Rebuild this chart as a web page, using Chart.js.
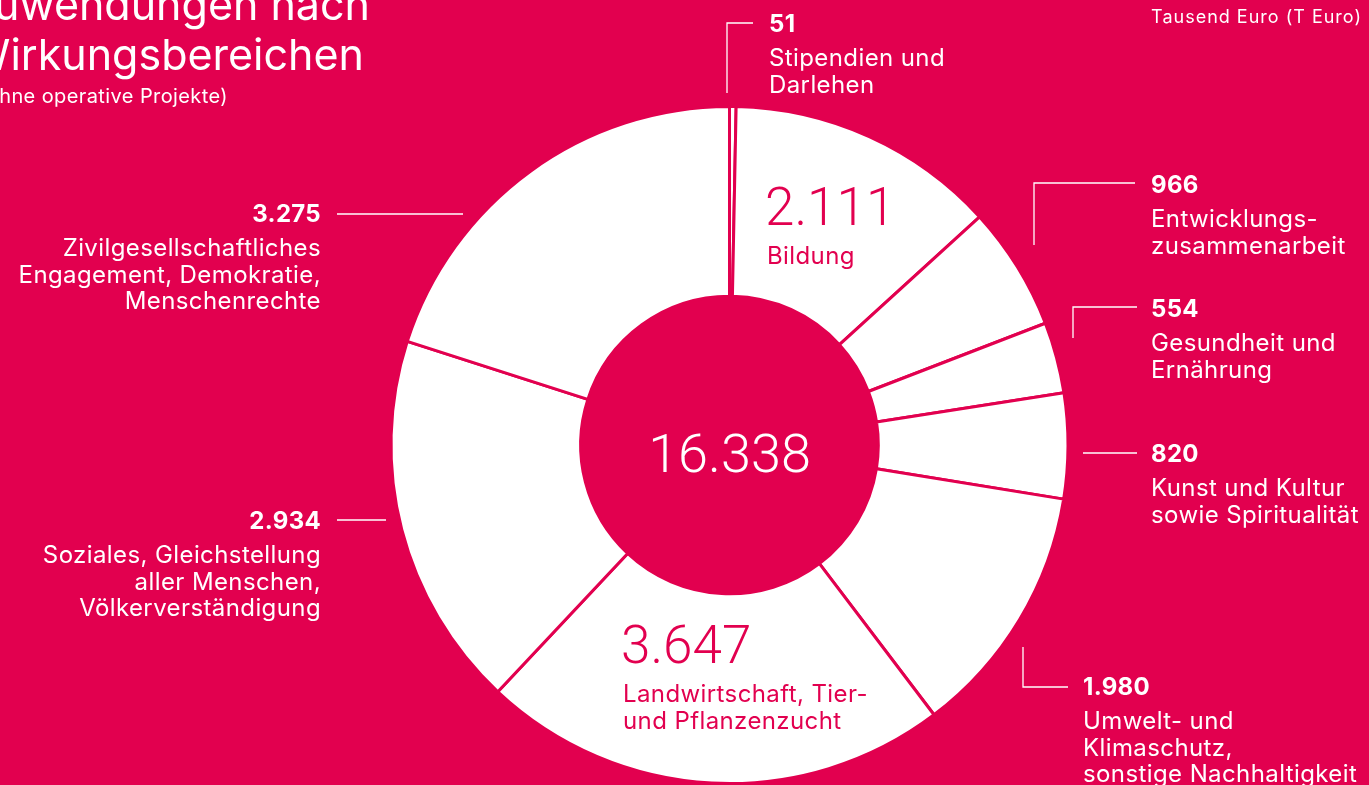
<!DOCTYPE html>
<html>
<head>
<meta charset="utf-8">
<script src="https://cdn.jsdelivr.net/npm/chart.js@4"></script>
<style>
  html, body { margin: 0; padding: 0; background: #E2004F; overflow: hidden; }
  #wrap { position: relative; width: 1369px; height: 785px; }
</style>
</head>
<body>
<div id="wrap"><canvas id="donut" width="1369" height="785"></canvas></div>
<script>
// ! data, clockwise from 12 o'clock
const categories = ['Stipendien und Darlehen', 'Bildung', 'Entwicklungszusammenarbeit', 'Gesundheit und Ernährung',
  'Kunst und Kultur sowie Spiritualität', 'Umwelt- und Klimaschutz, sonstige Nachhaltigkeit',
  'Landwirtschaft, Tier- und Pflanzenzucht', 'Soziales, Gleichstellung aller Menschen, Völkerverständigung',
  'Zivilgesellschaftliches Engagement, Demokratie, Menschenrechte'];
const values = [51, 2111, 966, 554, 820, 1980, 3647, 2934, 3275];
const labelLines = [
  ['Stipendien und', 'Darlehen'],
  ['Bildung'],
  ['Entwicklungs-', 'zusammenarbeit'],
  ['Gesundheit und', 'Ernährung'],
  ['Kunst und Kultur', 'sowie Spiritualität'],
  ['Umwelt- und', 'Klimaschutz,', 'sonstige Nachhaltigkeit'],
  ['Landwirtschaft, Tier-', 'und Pflanzenzucht'],
  ['Soziales, Gleichstellung', 'aller Menschen,', 'Völkerverständigung'],
  ['Zivilgesellschaftliches', 'Engagement, Demokratie,', 'Menschenrechte']
];
const titleLines = ['Zuwendungen nach', 'Wirkungsbereichen'];
const subtitle = '(ohne operative Projekte)';
const unitText = 'Tausend Euro (T Euro)';

const RED = '#E2004F';
const FONT = 'Inter, "Noto Sans", sans-serif';
const NUMFONT = 'Roboto, Inter, sans-serif';

// label placement (layout only): anchor x, baseline of value, alignment, inside slice or not, leader polyline
const labelPlace = [
  {x: 769, y: 32, align: 'left', inside: false, leader: [[753, 23], [727, 23], [727, 93]]},
  {x: 767, y: 225, align: 'left', inside: true},
  {x: 1151, y: 193, align: 'left', inside: false, leader: [[1135, 183], [1034, 183], [1034, 245]]},
  {x: 1151, y: 317, align: 'left', inside: false, leader: [[1137, 307], [1073, 307], [1073, 338]]},
  {x: 1151, y: 462, align: 'left', inside: false, leader: [[1137, 453], [1083, 453]]},
  {x: 1083, y: 695, align: 'left', inside: false, leader: [[1023, 647], [1023, 687], [1068, 687]]},
  {x: 623, y: 663, align: 'left', inside: true},
  {x: 321, y: 529, align: 'right', inside: false, leader: [[337, 520], [386, 520]]},
  {x: 321, y: 222, align: 'right', inside: false, leader: [[337, 214], [463, 214]]}
];

const fmt = v => String(v).replace(/\B(?=(\d{3})+(?!\d))/g, '.');
const total = values.reduce((a, b) => a + b, 0);

const textPlugin = {
  id: 'texts',
  afterDatasetsDraw(chart) {
    const ctx = chart.ctx;
    const arc = chart.getDatasetMeta(0).data[0];
    ctx.save();
    ctx.textBaseline = 'alphabetic';

    // title (right ends fixed, the left side runs off the page)
    ctx.fillStyle = '#fff';
    ctx.textAlign = 'right';
    ctx.letterSpacing = '0px';
    ctx.font = '400 43px ' + FONT;
    ctx.fillText(titleLines[0], 370, 20);
    ctx.fillText(titleLines[1], 364, 70);
    ctx.letterSpacing = '0.4px';
    ctx.font = '400 20px ' + FONT;
    ctx.fillText(subtitle, 228, 103);
    ctx.letterSpacing = '1px';
    ctx.font = '400 18px ' + FONT;
    ctx.fillText(unitText, 1362, 23);

    // total in centre
    ctx.letterSpacing = '0px';
    ctx.textAlign = 'center';
    ctx.font = '300 54px ' + NUMFONT;
    ctx.fillText(fmt(total), arc.x, 472);

    // slice labels
    values.forEach((v, i) => {
      const p = labelPlace[i];
      ctx.textAlign = p.align;
      if (p.inside) {
        ctx.fillStyle = RED;
        ctx.letterSpacing = '0px';
        ctx.font = '300 53px ' + NUMFONT;
        ctx.fillText(fmt(v), p.x - 2, p.y);
        ctx.letterSpacing = '0.4px';
        ctx.font = '400 24px ' + FONT;
        labelLines[i].forEach((t, k) => ctx.fillText(t, p.x, p.y + 39 + k * 26.5));
      } else {
        ctx.fillStyle = '#fff';
        ctx.letterSpacing = '0.3px';
        ctx.font = '700 24px ' + FONT;
        ctx.fillText(fmt(v), p.x, p.y);
        ctx.letterSpacing = '0.4px';
        ctx.font = '400 24px ' + FONT;
        labelLines[i].forEach((t, k) => ctx.fillText(t, p.x, p.y + 34 + k * 26.5));
        ctx.strokeStyle = '#fff';
        ctx.lineWidth = 1.3;
        ctx.beginPath();
        p.leader.forEach((pt, k) => k ? ctx.lineTo(pt[0], pt[1]) : ctx.moveTo(pt[0], pt[1]));
        ctx.stroke();
      }
    });
    ctx.restore();
  }
};

const donutCtx = document.getElementById('donut').getContext('2d');
const donut = new Chart(donutCtx, {
  type: 'doughnut',
  data: {
    labels: categories,
    datasets: [{
      data: values,
      backgroundColor: '#ffffff',
      borderColor: RED,
      borderWidth: 3,
      hoverOffset: 0
    }]
  },
  options: {
    responsive: false,
    animation: false,
    devicePixelRatio: 1,
    radius: 338.5,
    cutout: 147.5,
    rotation: 0,
    layout: { padding: { left: 392, right: 302, top: 108, bottom: 3 } },
    plugins: { legend: { display: false }, tooltip: { enabled: false } }
  },
  plugins: [textPlugin]
});
</script>
</body>
</html>
